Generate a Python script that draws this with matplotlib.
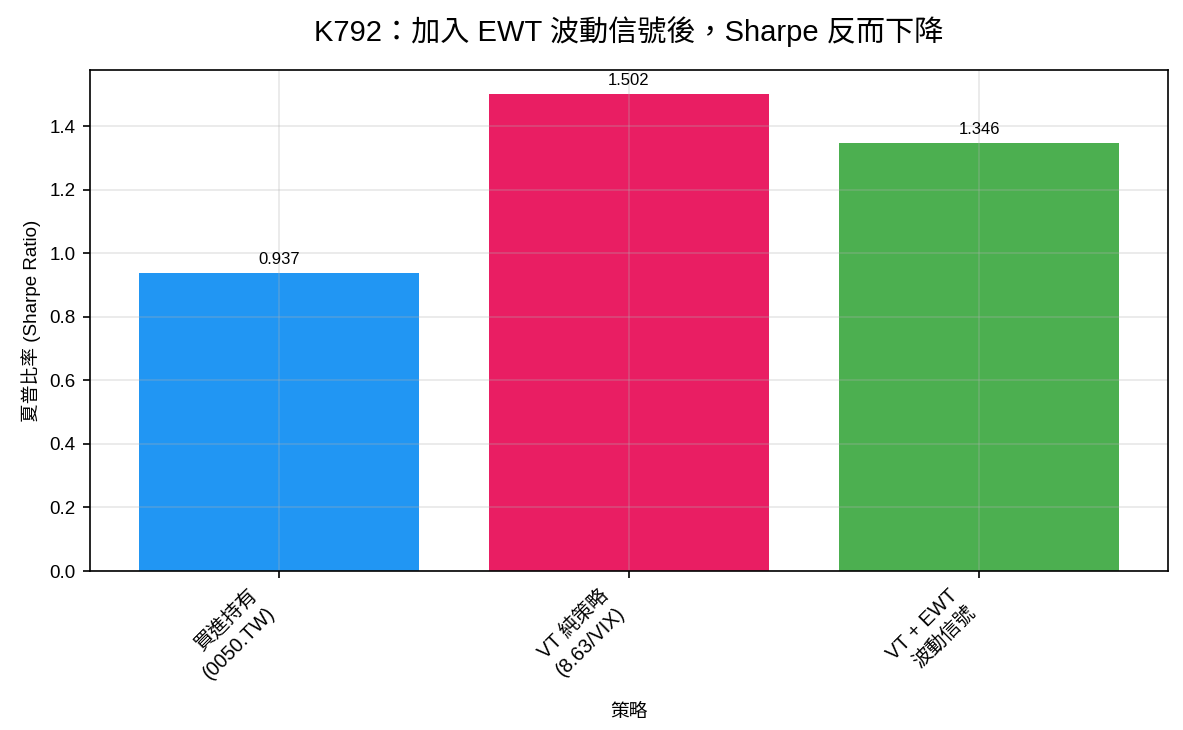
import matplotlib
matplotlib.use('Agg')
import matplotlib.pyplot as plt

plt.rcParams['font.family'] = ['Liberation Sans', 'Noto Sans CJK TC', 'DejaVu Sans']
plt.rcParams['axes.unicode_minus'] = False

strategies = ['買進持有\n(0050.TW)', 'VT 純策略\n(8.63/VIX)', 'VT + EWT\n波動信號']
sharpe = [0.937, 1.502, 1.346]
colors = ['#2196F3', '#E91E63', '#4CAF50']

fig, ax = plt.subplots(figsize=(7.887, 4.867), dpi=150)
bars = ax.bar(range(len(strategies)), sharpe, color=colors, width=0.8)

for b, v in zip(bars, sharpe):
    ax.annotate(f'{v:.3f}', xy=(b.get_x() + b.get_width() / 2, v),
                xytext=(0, 3), textcoords='offset points',
                ha='center', va='bottom', fontsize=8)

ax.set_xticks(range(len(strategies)))
ax.set_xticklabels(strategies, rotation=45, ha='right', fontsize=9.5,
                   linespacing=1.4)
ax.tick_params(axis='y', labelsize=9)
ax.set_xlabel('策略', fontsize=9, labelpad=10)
ax.set_ylabel('夏普比率 (Sharpe Ratio)', fontsize=9)
ax.set_title('K792：加入 EWT 波動信號後，Sharpe 反而下降', fontsize=14, pad=14)
ax.grid(True, alpha=0.3)

fig.subplots_adjust(left=0.0761, right=0.9873, top=0.9041, bottom=0.2178)
fig.savefig('out.png')
